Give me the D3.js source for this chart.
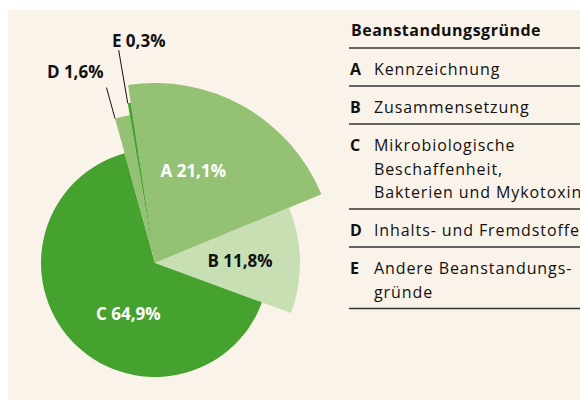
<!DOCTYPE html>
<html>
<head>
<meta charset="utf-8">
<script src="https://cdn.jsdelivr.net/npm/d3@7"></script>
<style>
  body { margin: 0; background: #fff; }
  svg { display: block; font-family: 'Open Sans', sans-serif; }
</style>
</head>
<body>
<div id="chart"></div>
<script>
// Data
const categories = ['A', 'B', 'C', 'D', 'E'];
const values = [21.1, 11.8, 64.9, 1.6, 0.3];
const valueLabels = ['21,1%', '11,8%', '64,9%', '1,6%', '0,3%'];
const legendTitle = 'Beanstandungsgründe';
const legendTexts = [
  ['Kennzeichnung'],
  ['Zusammensetzung'],
  ['Mikrobiologische', 'Beschaffenheit,', 'Bakterien und Mykotoxine'],
  ['Inhalts- und Fremdstoffe'],
  ['Andere Beanstandungs-', 'gründe']
];

// Styles
const colors = ['#95c174', '#c7dfb3', '#46a22e', '#95c174', '#46a22e'];
const radii = [180, 145, 114, 150, 162];
const labelColors = ['#fff', '#111', '#fff', '#111', '#111'];

const width = 580, height = 400;
const cx = 155, cy = 263;

const svg = d3.select('#chart').append('svg')
  .attr('width', width)
  .attr('height', height);

// Background panel
svg.append('rect')
  .attr('x', 8).attr('y', 10)
  .attr('width', width - 8).attr('height', height - 10)
  .attr('fill', '#faf3e9');

const pie = d3.pie()
  .sort(null)
  .value(d => d)
  .startAngle(-8.6 * Math.PI / 180)
  .endAngle(2 * Math.PI - 8.6 * Math.PI / 180);

const arcs = pie(values);

const g = svg.append('g').attr('transform', `translate(${cx},${cy})`);

// Slices
g.selectAll('path.slice')
  .data(arcs)
  .enter().append('path')
  .attr('class', 'slice')
  .attr('fill', (d, i) => colors[i])
  .attr('d', (d, i) => d3.arc().innerRadius(0).outerRadius(radii[i])(d));

const polar = (a, r) => [r * Math.sin(a), -r * Math.cos(a)];

// Inside labels for A, B, C
const insideLabel = [
  { i: 0, r: 100, shift: -7 },
  { i: 1, r: 85, shift: 0 },
  { i: 2, r: 58, shift: -20 }
];
insideLabel.forEach(o => {
  const d = arcs[o.i];
  const mid = (d.startAngle + d.endAngle) / 2 + o.shift * Math.PI / 180;
  const [x, y] = polar(mid, o.r);
  g.append('text')
    .attr('x', x).attr('y', y)
    .attr('dy', '0.35em')
    .attr('text-anchor', 'middle')
    .attr('fill', labelColors[o.i])
    .style('font-size', '17px')
    .style('font-weight', 700)
    .text(`${categories[o.i]} ${valueLabels[o.i]}`);
});

// Leader lines for D and E, along the slice start edge
const leaders = [
  { i: 3, len: 32, anchor: 'end', dx: -3, dy: -10 },
  { i: 4, len: 54, anchor: 'middle', dx: 20, dy: -3 }
];
leaders.forEach(o => {
  const d = arcs[o.i];
  const p0 = polar(d.startAngle, radii[o.i]);
  const p1 = polar(d.startAngle, radii[o.i] + o.len);
  g.append('line')
    .attr('x1', p0[0]).attr('y1', p0[1])
    .attr('x2', p1[0]).attr('y2', p1[1])
    .attr('stroke', '#111')
    .attr('stroke-width', 1);
  g.append('text')
    .attr('x', p1[0] + o.dx).attr('y', p1[1] + o.dy)
    .attr('text-anchor', o.anchor)
    .attr('fill', labelColors[o.i])
    .style('font-size', '17px')
    .style('font-weight', 700)
    .text(`${categories[o.i]} ${valueLabels[o.i]}`);
});

// Legend
const lx = 349, lineH = 23.5;
const legend = svg.append('g').attr('class', 'legend');

legend.append('text')
  .attr('x', lx + 2).attr('y', 36)
  .attr('fill', '#111')
  .style('font-size', '16px')
  .style('font-weight', 700)
  .style('letter-spacing', '0.5px')
  .text(legendTitle);

const rule = y => legend.append('line')
  .attr('x1', lx).attr('x2', width)
  .attr('y1', y).attr('y2', y)
  .attr('stroke', '#333')
  .attr('stroke-width', 1.5);

rule(48);
let y = 48;
categories.forEach((c, i) => {
  const first = y + 27;
  legend.append('text')
    .attr('x', lx + 1).attr('y', first)
    .attr('fill', '#111')
    .style('font-size', '16px')
    .style('font-weight', 700)
    .text(c);
  legendTexts[i].forEach((t, k) => {
    legend.append('text')
      .attr('x', lx + 25).attr('y', first + k * lineH)
      .attr('fill', '#111')
      .style('font-size', '16px')
      .style('letter-spacing', '0.9px')
      .text(t);
  });
  y = first + (legendTexts[i].length - 1) * lineH + 11;
  rule(y);
});
</script>
</body>
</html>
